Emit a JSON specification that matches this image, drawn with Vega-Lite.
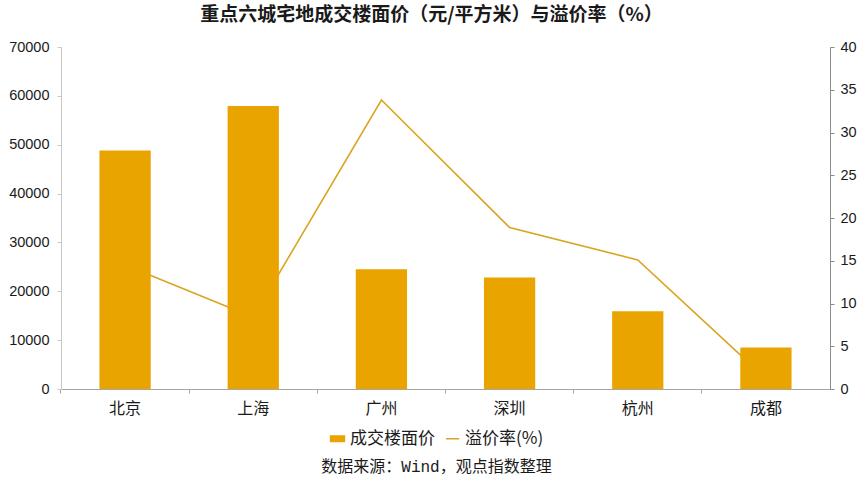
{
  "$schema": "https://vega.github.io/schema/vega-lite/v6.json",
  "width": 769,
  "height": 342,
  "autosize": "none",
  "padding": {"left": 61, "top": 47, "right": 35, "bottom": 94},
  "background": "white",
  "config": {
    "view": {"stroke": null},
    "font": "Liberation Sans, Noto Sans CJK SC",
    "axis": {"domainColor": "#A6A6A6", "tickColor": "#A6A6A6", "labelColor": "#1a1a1a", "grid": false, "tickSize": 4}
  },
  "title": {
    "text": "重点六城宅地成交楼面价（元/平方米）与溢价率（%）",
    "font": "Noto Sans CJK SC",
    "fontSize": 19,
    "fontWeight": "bold",
    "color": "#1a1a1a",
    "anchor": "middle",
    "offset": 14,
    "dx": -14
  },
  "data": {
    "values": [
      {"city": "北京", "price": 48800, "premium": 14.5},
      {"city": "上海", "price": 57900, "premium": 8.4},
      {"city": "广州", "price": 24500, "premium": 33.8},
      {"city": "深圳", "price": 22800, "premium": 18.9},
      {"city": "杭州", "price": 15900, "premium": 15.1},
      {"city": "成都", "price": 8500, "premium": 1.2}
    ]
  },
  "encoding": {
    "x": {
      "field": "city",
      "type": "nominal",
      "sort": null,
      "scale": {"paddingInner": 0.6, "paddingOuter": 0.3},
      "axis": {
        "labelAngle": 0,
        "labelFont": "Noto Sans CJK SC",
        "labelFontSize": 16,
        "labelPadding": 7,
        "bandPosition": -0.75,
        "title": "数据来源：Wind，观点指数整理",
        "titleFont": "Liberation Mono, Noto Sans CJK SC",
        "titleFontSize": 16,
        "titleFontWeight": "normal",
        "titleColor": "#1a1a1a",
        "titlePadding": 42,
        "titleX": 375,
        "titleAlign": "center"
      }
    }
  },
  "layer": [
    {
      "mark": {"type": "line", "strokeWidth": 1.6},
      "encoding": {
        "y": {
          "field": "premium",
          "type": "quantitative",
          "scale": {"domain": [0, 40], "nice": false},
          "axis": {"orient": "right", "title": null, "values": [0, 5, 10, 15, 20, 25, 30, 35, 40], "labelFontSize": 14.5, "labelPadding": 6, "domainColor": "#8C8C8C", "tickColor": "#8C8C8C"}
        },
        "color": {"datum": "溢价率(%)"}
      }
    },
    {
      "mark": {"type": "bar"},
      "encoding": {
        "y": {
          "field": "price",
          "type": "quantitative",
          "scale": {"domain": [0, 70000], "nice": false},
          "axis": {"orient": "left", "title": null, "format": "d", "values": [0, 10000, 20000, 30000, 40000, 50000, 60000, 70000], "labelFontSize": 14.5, "labelPadding": 8, "domainColor": "#C8C8C8", "tickColor": "#C8C8C8"}
        },
        "color": {
          "datum": "成交楼面价",
          "scale": {"domain": ["成交楼面价", "溢价率(%)"], "range": ["#E9A400", "#D9A521"]},
          "legend": {
            "orient": "none",
            "legendX": 268,
            "legendY": 383,
            "direction": "horizontal",
            "title": null,
            "labelFont": "Noto Sans CJK SC",
            "labelFontSize": 17,
            "labelColor": "#1a1a1a",
            "labelOffset": 4,
            "symbolSize": 90,
            "columnPadding": 7,
            "encode": {
              "symbols": {
                "update": {
                  "shape": {"signal": "datum.value === '成交楼面价' ? 'M-1.46,-0.58H1.46V0.58H-1.46Z' : 'M-1.4,0H1.4'"},
                  "fill": {"signal": "datum.value === '成交楼面价' ? '#E9A400' : 'transparent'"},
                  "stroke": {"signal": "datum.value === '成交楼面价' ? 'transparent' : '#D9A521'"},
                  "strokeWidth": {"value": 1.5},
                  "opacity": {"value": 1}
                }
              }
            }
          }
        }
      }
    }
  ],
  "resolve": {"scale": {"y": "independent"}}
}
